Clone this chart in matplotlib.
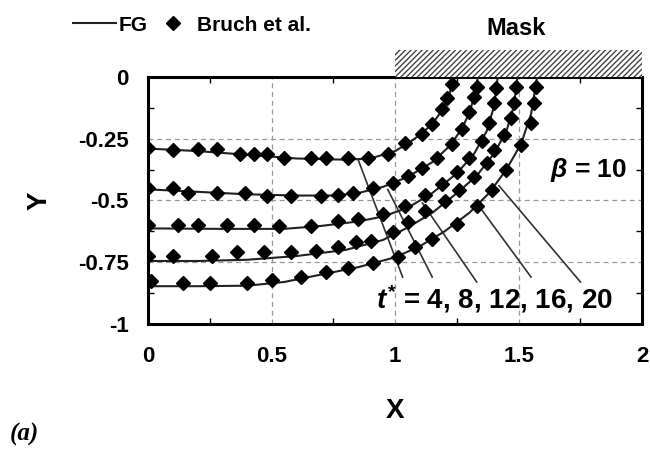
import matplotlib
matplotlib.use('Agg')
import matplotlib.pyplot as plt
from matplotlib.patches import Rectangle

plt.rcParams['font.family'] = ['Liberation Sans', 'DejaVu Sans']
plt.rcParams['font.weight'] = 'bold'
plt.rcParams['mathtext.fontset'] = 'custom'
plt.rcParams['mathtext.rm'] = 'Liberation Sans:bold'
plt.rcParams['mathtext.it'] = 'Liberation Sans:italic:bold'
plt.rcParams['hatch.linewidth'] = 1.0

# etch front, FG solution (lines)
fg_x4 = [0, 0.2, 0.4, 0.6, 0.8, 0.9, 1.0, 1.05, 1.1, 1.15, 1.19, 1.22, 1.235]
fg_y4 = [-0.29, -0.30, -0.315, -0.33, -0.335, -0.33, -0.30, -0.27, -0.235, -0.19, -0.135, -0.07, 0]
fg_x8 = [0, 0.2, 0.4, 0.6, 0.75, 0.85, 0.95, 1.05, 1.15, 1.22, 1.27, 1.30, 1.32, 1.335]
fg_y8 = [-0.455, -0.465, -0.475, -0.48, -0.48, -0.47, -0.445, -0.405, -0.345, -0.28, -0.21, -0.145, -0.08, 0]
fg_x12 = [0, 0.3, 0.55, 0.7, 0.85, 0.95, 1.05, 1.15, 1.25, 1.32, 1.37, 1.40, 1.415]
fg_y12 = [-0.613, -0.615, -0.615, -0.603, -0.585, -0.565, -0.53, -0.47, -0.39, -0.31, -0.22, -0.12, 0]
fg_x16 = [0, 0.2, 0.4, 0.6, 0.8, 0.95, 1.05, 1.15, 1.25, 1.33, 1.40, 1.45, 1.48, 1.495]
fg_y16 = [-0.745, -0.745, -0.74, -0.725, -0.70, -0.66, -0.61, -0.55, -0.47, -0.40, -0.31, -0.22, -0.12, 0]
fg_x20 = [0, 0.2, 0.4, 0.55, 0.7, 0.85, 1.0, 1.1, 1.2, 1.3, 1.38, 1.45, 1.51, 1.55, 1.575]
fg_y20 = [-0.847, -0.847, -0.845, -0.83, -0.80, -0.77, -0.73, -0.685, -0.625, -0.55, -0.47, -0.375, -0.27, -0.15, 0]

# Bruch et al. (markers)
br_x4 = [0, 0.10, 0.20, 0.28, 0.37, 0.43, 0.48, 0.55, 0.66, 0.72, 0.81, 0.89, 0.97, 1.04, 1.11, 1.15, 1.19, 1.21, 1.23]
br_y4 = [-0.286, -0.294, -0.29, -0.29, -0.31, -0.31, -0.31, -0.327, -0.327, -0.33, -0.33, -0.327, -0.31, -0.266, -0.23, -0.19, -0.13, -0.085, -0.03]
br_x8 = [0, 0.10, 0.16, 0.28, 0.39, 0.48, 0.58, 0.70, 0.77, 0.83, 0.91, 0.99, 1.05, 1.11, 1.17, 1.23, 1.27, 1.30, 1.32, 1.33]
br_y8 = [-0.45, -0.45, -0.47, -0.47, -0.47, -0.48, -0.48, -0.48, -0.476, -0.47, -0.45, -0.43, -0.40, -0.37, -0.33, -0.27, -0.21, -0.14, -0.08, -0.04]
br_x12 = [0, 0.12, 0.20, 0.32, 0.43, 0.53, 0.66, 0.77, 0.85, 0.95, 1.04, 1.12, 1.19, 1.25, 1.30, 1.35, 1.38, 1.40, 1.41]
br_y12 = [-0.60, -0.60, -0.60, -0.60, -0.60, -0.605, -0.605, -0.585, -0.573, -0.556, -0.524, -0.476, -0.435, -0.383, -0.327, -0.26, -0.185, -0.105, -0.045]
br_x16 = [0, 0.10, 0.26, 0.36, 0.47, 0.58, 0.68, 0.77, 0.84, 0.90, 0.99, 1.05, 1.12, 1.20, 1.26, 1.32, 1.37, 1.40, 1.44, 1.47, 1.48, 1.49]
br_y16 = [-0.726, -0.726, -0.726, -0.71, -0.71, -0.71, -0.705, -0.69, -0.67, -0.665, -0.629, -0.589, -0.544, -0.504, -0.456, -0.407, -0.347, -0.294, -0.234, -0.165, -0.105, -0.04]
br_x20 = [0.01, 0.14, 0.25, 0.40, 0.50, 0.62, 0.72, 0.81, 0.91, 1.01, 1.08, 1.15, 1.25, 1.33, 1.39, 1.45, 1.51, 1.55, 1.56, 1.57]
br_y20 = [-0.827, -0.835, -0.835, -0.835, -0.82, -0.81, -0.79, -0.775, -0.754, -0.73, -0.69, -0.657, -0.597, -0.524, -0.456, -0.375, -0.274, -0.185, -0.105, -0.04]

fg = [(fg_x4, fg_y4), (fg_x8, fg_y8), (fg_x12, fg_y12), (fg_x16, fg_y16), (fg_x20, fg_y20)]
bruch = [(br_x4, br_y4), (br_x8, br_y8), (br_x12, br_y12), (br_x16, br_y16), (br_x20, br_y20)]

# leader lines from the t* label to each front
lead_x0 = [0.85, 0.97, 1.11, 1.34, 1.42]
lead_y0 = [-0.335, -0.456, -0.51, -0.524, -0.44]
lead_x1 = [1.03, 1.15, 1.33, 1.55, 1.75]
lead_y1 = [-0.81, -0.81, -0.83, -0.81, -0.83]

fig = plt.figure(figsize=(6.5, 4.5), dpi=100)
ax = fig.add_axes([0.228, 0.28, 0.76, 0.549])

ax.grid(True, color='#999999', linestyle=(0, (4, 3)), linewidth=0.9)
ax.set_axisbelow(True)

for (lx, ly), (bx, by) in zip(fg, bruch):
    l_fg, = ax.plot(lx, ly, color='#222222', lw=1.5, zorder=3)
    l_br, = ax.plot(bx, by, 'D', color='black', ms=6.8, zorder=4)

for i in range(len(lead_x0)):
    ax.plot([lead_x0[i], lead_x1[i]], [lead_y0[i], lead_y1[i]], color='#333333', lw=1.2, zorder=2)

# mask on top of the substrate
ax.add_patch(Rectangle((1, 0), 1, 0.11, facecolor='white', edgecolor='#444444',
                       hatch='//////', lw=0, clip_on=False, zorder=5))
ax.text(1.49, 0.15, 'Mask', ha='center', va='bottom', fontsize=17, fontweight='bold')

ax.text(1.94, -0.375, r'$\beta$ = 10', ha='right', va='center', fontsize=19)
ax.text(1.88, -0.90, r'$t^{*}$ = 4, 8, 12, 16, 20', ha='right', va='center', fontsize=20)

ax.set_xlim(0, 2)
ax.set_ylim(-1, 0)
ax.set_xticks([0, 0.5, 1, 1.5, 2])
ax.set_xticklabels(['0', '0.5', '1', '1.5', '2'])
ax.set_yticks([0, -0.25, -0.5, -0.75, -1])
ax.set_yticklabels(['0', '-0.25', '-0.5', '-0.75', '-1'])
ax.set_xticks([0.25, 0.75, 1.25, 1.75], minor=True)
ax.set_yticks([-0.125, -0.375, -0.625, -0.875], minor=True)
ax.tick_params(which='major', length=0, labelsize=16, pad=16)
ax.tick_params(which='minor', direction='in', length=4, width=1, top=True, right=True)
ax.tick_params(axis='y', which='major', pad=14)
for s in ax.spines.values():
    s.set_linewidth(2.2)

ax.set_xlabel('X', fontsize=20, fontweight='bold', labelpad=22)
ax.set_ylabel('Y', fontsize=20, fontweight='bold', labelpad=18)

ax.legend([l_fg, l_br], ['FG', 'Bruch et al.'], ncol=2, loc='center left',
          bbox_to_anchor=(-0.17, 1.21), frameon=False, fontsize=15,
          handlelength=2.1, handletextpad=0.1, columnspacing=0.2, borderaxespad=0)

fig.text(0.015, 0.02, '(a)', fontsize=18, fontstyle='italic', fontweight='bold',
         family='Liberation Serif')

fig.savefig('out.png', dpi=100)
